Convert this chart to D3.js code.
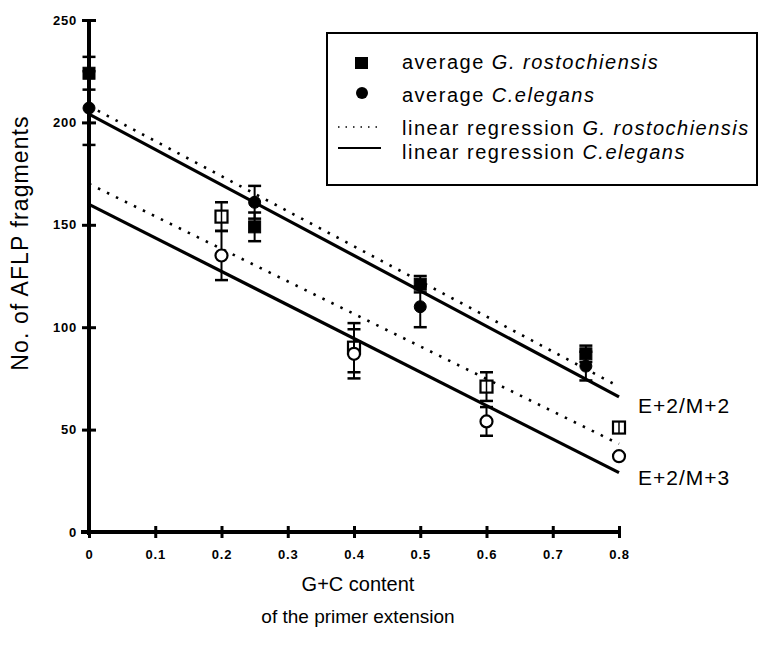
<!DOCTYPE html>
<html>
<head>
<meta charset="utf-8">
<script src="https://cdn.jsdelivr.net/npm/d3@7"></script>
<style>
  body { margin: 0; background: #fff; }
  text { font-family: "Liberation Sans", Arial, sans-serif; fill: #000; }
</style>
</head>
<body>
<div id="chart"></div>
<script>
// data
var xTicks = [0, 0.1, 0.2, 0.3, 0.4, 0.5, 0.6, 0.7, 0.8];
var yTicks = [0, 50, 100, 150, 200, 250];

// E+2/M+2 primers
var rostM2X = [0, 0.25, 0.5, 0.75];
var rostM2Y = [224, 149, 121, 87];
var rostM2Err = [8, 7, 4, 4];
var elegM2X = [0, 0.25, 0.5, 0.75];
var elegM2Y = [207, 161, 110, 81];
var elegM2Err = [18, 8, 10, 7];

// E+2/M+3 primers
var rostM3X = [0.2, 0.4, 0.6, 0.8];
var rostM3Y = [154, 90, 71, 51];
var rostM3Err = [7, 12, 7, 0];
var elegM3X = [0.2, 0.4, 0.6, 0.8];
var elegM3Y = [135, 87, 54, 37];
var elegM3Err = [12, 12, 7, 0];

// regression lines: start/end values
var regX = [0, 0.8];
var regRostM2 = [208, 71];
var regElegM2 = [204, 66];
var regRostM3 = [170, 43];
var regElegM3 = [160, 29];

var W = 763, H = 654;

var svg = d3.select("#chart")
  .append("svg")
  .attr("width", W)
  .attr("height", H);

var x = d3.scaleLinear().domain([0, 0.8]).range([89, 619]);
var y = d3.scaleLinear().domain([0, 250]).range([532, 20]);

// regression lines
function regLine(vals, dashed) {
  svg.append("path")
    .datum(regX.map((d, i) => [d, vals[i]]))
    .attr("fill", "none")
    .attr("stroke", "#000")
    .attr("stroke-width", dashed ? 2.6 : 3.2)
    .attr("stroke-dasharray", dashed ? "2.5,7.5" : null)
    .attr("d", d3.line().x(d => x(d[0])).y(d => y(d[1])));
}
regLine(regRostM2, true);
regLine(regElegM2, false);
regLine(regRostM3, true);
regLine(regElegM3, false);

// y axis
var yAxis = svg.append("g")
  .attr("transform", "translate(" + x(0) + ",0)")
  .call(d3.axisLeft(y).tickValues(yTicks).tickSize(6).tickPadding(6));
yAxis.select(".domain").attr("stroke-width", 4).attr("d", "M0," + (y(0) + 3) + "V" + y(250));
yAxis.selectAll(".tick line").attr("x1", -7).attr("x2", 7).attr("stroke-width", 3);
yAxis.selectAll(".tick text")
  .attr("x", -12)
  .style("font-size", "13px").style("font-weight", "bold").style("letter-spacing", "0.8px");

// x axis
var xAxis = svg.append("g")
  .attr("transform", "translate(0," + y(0) + ")")
  .call(d3.axisBottom(x).tickValues(xTicks).tickFormat(d => d === 0 ? "0" : d3.format(".1f")(d)).tickSize(6));
xAxis.select(".domain").attr("stroke-width", 4).attr("d", "M" + (x(0) - 8) + ",0H" + x(0.8));
xAxis.selectAll(".tick line").attr("y1", -6).attr("y2", 6).attr("stroke-width", 3);
xAxis.selectAll(".tick text")
  .attr("y", 18)
  .style("font-size", "13px").style("font-weight", "bold").style("letter-spacing", "0.8px");

// error bars + markers
function series(xs, ys, errs, shape, filled) {
  var g = svg.append("g");
  xs.forEach(function (xv, i) {
    var cx = x(xv), cy = y(ys[i]), e = errs[i];
    if (e > 0) {
      g.append("line").attr("x1", cx).attr("x2", cx)
        .attr("y1", y(ys[i] - e)).attr("y2", y(ys[i] + e))
        .attr("stroke", "#000").attr("stroke-width", 2);
      [ys[i] - e, ys[i] + e].forEach(function (v) {
        g.append("line").attr("x1", cx - 6.5).attr("x2", cx + 6.5)
          .attr("y1", y(v)).attr("y2", y(v))
          .attr("stroke", "#000").attr("stroke-width", 2.5);
      });
    }
    if (shape === "square") {
      g.append("rect").attr("x", cx - 6).attr("y", cy - 6)
        .attr("width", 12).attr("height", 12)
        .attr("fill", filled ? "#000" : "#fff")
        .attr("stroke", "#000").attr("stroke-width", filled ? 1 : 2.2);
      if (!filled) {
        g.append("line").attr("x1", cx).attr("x2", cx)
          .attr("y1", cy - 6).attr("y2", cy + 6)
          .attr("stroke", "#000").attr("stroke-width", 1.5);
      }
    } else {
      g.append("circle").attr("cx", cx).attr("cy", cy).attr("r", 6)
        .attr("fill", filled ? "#000" : "#fff")
        .attr("stroke", "#000").attr("stroke-width", filled ? 1 : 2.2);
    }
  });
}
series(rostM3X, rostM3Y, rostM3Err, "square", false);
series(elegM3X, elegM3Y, elegM3Err, "circle", false);
series(rostM2X, rostM2Y, rostM2Err, "square", true);
series(elegM2X, elegM2Y, elegM2Err, "circle", true);

// primer labels
svg.append("text").attr("x", 638).attr("y", 413)
  .style("font-size", "21px").style("letter-spacing", "1px").text("E+2/M+2");
svg.append("text").attr("x", 638).attr("y", 485)
  .style("font-size", "21px").style("letter-spacing", "1px").text("E+2/M+3");

// axis titles
svg.append("text")
  .attr("transform", "translate(28,243) rotate(-90)")
  .attr("text-anchor", "middle")
  .style("font-size", "23px").style("letter-spacing", "1.1px")
  .text("No. of AFLP fragments");
svg.append("text").attr("x", 358).attr("y", 591)
  .attr("text-anchor", "middle").style("font-size", "20px")
  .text("G+C content");
svg.append("text").attr("x", 358).attr("y", 623)
  .attr("text-anchor", "middle").style("font-size", "19px")
  .text("of the primer extension");

// legend
var lg = svg.append("g");
lg.append("rect").attr("x", 327).attr("y", 33).attr("width", 430).attr("height", 152)
  .attr("fill", "#fff").attr("stroke", "#000").attr("stroke-width", 2);

var legRows = [
  { y: 62, pre: "average ", it: "G. rostochiensis", sym: "square", sy: 63 },
  { y: 95, pre: "average ", it: "C.elegans", sym: "circle", sy: 93 },
  { y: 128, pre: "linear regression ", it: "G. rostochiensis", sym: "dot", sy: 127 },
  { y: 152, pre: "linear regression ", it: "C.elegans", sym: "solid", sy: 148 }
];
legRows.forEach(function (r) {
  if (r.sym === "square") {
    lg.append("rect").attr("x", 355).attr("y", r.sy - 6).attr("width", 13).attr("height", 12).attr("fill", "#000");
  } else if (r.sym === "circle") {
    lg.append("circle").attr("cx", 362).attr("cy", r.sy).attr("r", 6).attr("fill", "#000");
  } else {
    lg.append("line").attr("x1", 338).attr("x2", 381).attr("y1", r.sy).attr("y2", r.sy)
      .attr("stroke", "#000").attr("stroke-width", r.sym === "dot" ? 1.5 : 2)
      .attr("stroke-dasharray", r.sym === "dot" ? "1.5,6" : null);
  }
  var t = lg.append("text").attr("x", 402).attr("y", r.y + 7)
    .style("font-size", "20px").style("letter-spacing", "1.5px");
  t.append("tspan").text(r.pre);
  t.append("tspan").style("font-style", "italic").text(r.it);
});
</script>
</body>
</html>
